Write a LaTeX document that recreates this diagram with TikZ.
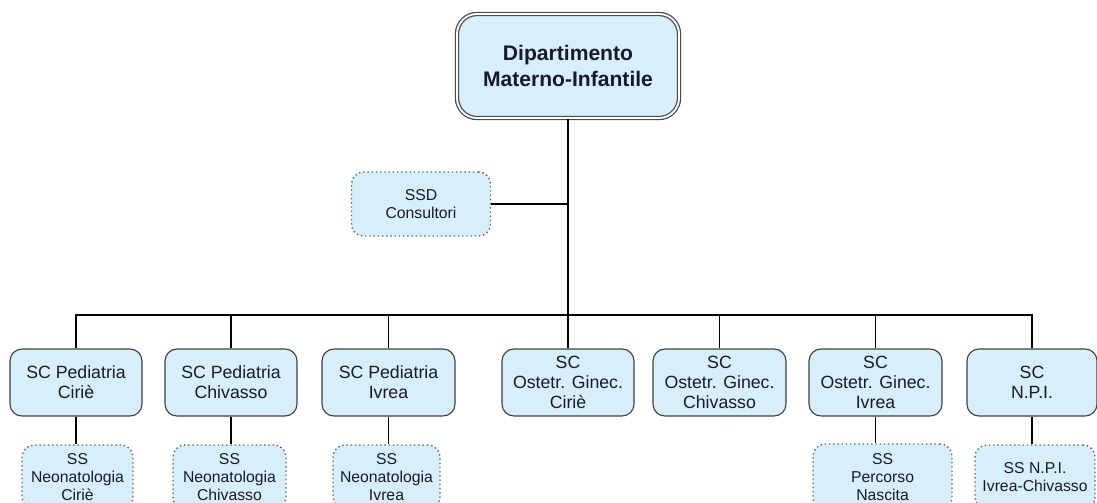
\documentclass[tikz,border=0pt]{standalone}
\usepackage{fontspec}
\setmainfont{Liberation Sans}
\definecolor{boxblue}{RGB}{214,239,250}
\definecolor{txt}{RGB}{25,25,45}

\begin{document}
\begin{tikzpicture}[x=0.025cm,y=-0.025cm,
  unit/.style={draw=black!75,line width=0.8pt,fill=boxblue,rounded corners=0.3cm,
    align=center,text=txt,inner sep=1pt,minimum height=1.675cm,
    font=\fontsize{12.6}{14.2}\selectfont},
  sub/.style={draw=black!60,dotted,line width=1pt,fill=boxblue,rounded corners=0.3cm,
    align=center,text=txt,inner sep=1pt,minimum height=1.6cm,
    font=\fontsize{11.2}{13}\selectfont},
  link/.style={line width=0.8pt,black}]

  \clip (0,0) rectangle (1097,502);

  \node[draw=black!70,double=white,double distance=1.3pt,line width=0.9pt,
    fill=boxblue,rounded corners=0.5cm,align=center,text=txt,
    minimum width=5.55cm,minimum height=2.6cm,
    font=\fontsize{15}{19}\selectfont\bfseries] (dm) at (568,66)
    {Dipartimento\\Materno-Infantile};

  \node[sub,minimum width=3.475cm] (co) at (421,204) {SSD\\Consultori};

  \node[unit,minimum width=3.3cm]   (pc) at (76,382.5)    {SC Pediatria\\Ciriè};
  \node[unit,minimum width=3.3cm]   (pv) at (231,382.5)   {SC Pediatria\\Chivasso};
  \node[unit,minimum width=3.325cm] (pi) at (388.5,382.5) {SC Pediatria\\Ivrea};
  \node[unit,minimum width=3.3cm]   (oc) at (568,382.5)   {SC\\Ostetr. Ginec.\\Ciriè};
  \node[unit,minimum width=3.325cm] (ov) at (719.5,382.5) {SC\\Ostetr. Ginec.\\Chivasso};
  \node[unit,minimum width=3.325cm] (oi) at (875.5,382.5) {SC\\Ostetr. Ginec.\\Ivrea};
  \node[unit,minimum width=3.25cm]  (np) at (1032,382.5)  {SC\\N.P.I.};

  \node[sub,minimum width=2.775cm] (nc) at (77.5,477)  {SS\\Neonatologia\\Ciriè};
  \node[sub,minimum width=2.825cm] (nv) at (229.5,477) {SS\\Neonatologia\\Chivasso};
  \node[sub,minimum width=2.675cm] (ni) at (386.5,477) {SS\\Neonatologia\\Ivrea};
  \node[sub,minimum width=3.475cm,minimum height=1.65cm] (pn) at (882.5,477) {SS\\Percorso\\Nascita};
  \node[sub,minimum width=3cm] (ns) at (1035,477) {SS N.P.I.\\Ivrea-Chivasso};

  \coordinate (bus) at (568,315);

  \draw[link] (dm.south) -- (oc.north);
  \draw[link] (co.east) -- (co.east -| dm.south);
  \foreach \n in {pc,pv,pi,ov,oi,np}
    \draw[link] (bus) -| (\n.north);

  \foreach \a/\b in {pc/nc,pv/nv,pi/ni,oi/pn,np/ns}
    \draw[link] (\a.south) -- (\a.south |- \b.north);

\end{tikzpicture}
\end{document}
